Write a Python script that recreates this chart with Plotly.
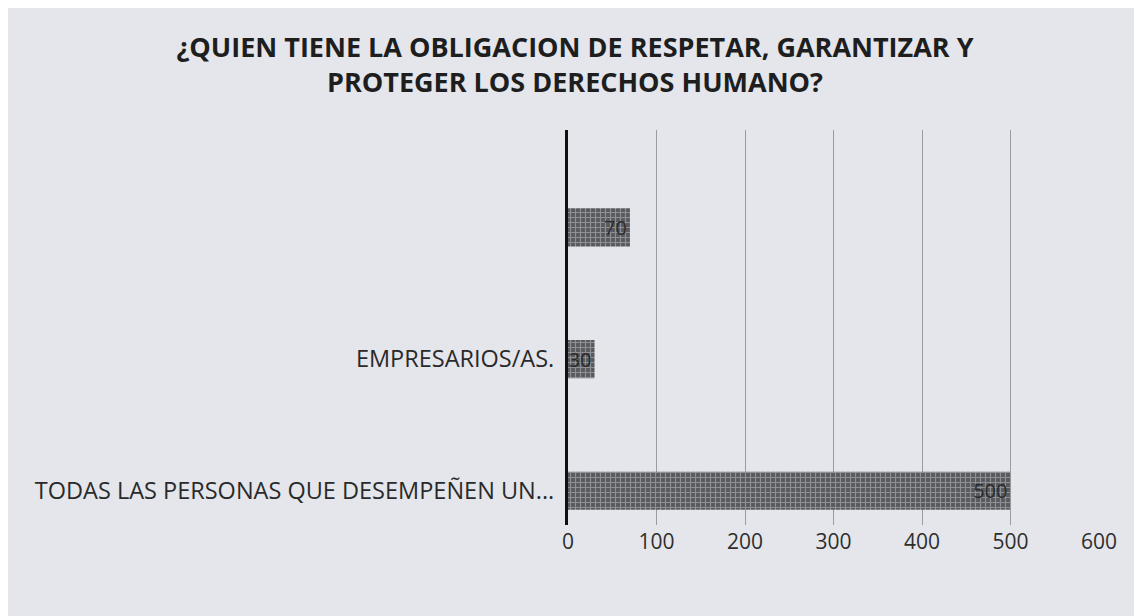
import plotly.graph_objects as go

# chart data (bottom to top, as drawn by the category axis)
categories = ["TODAS LAS PERSONAS QUE DESEMPEÑEN UN...", "EMPRESARIOS/AS.", " "]
values = [500, 30, 70]
x_ticks = [0, 100, 200, 300, 400, 500, 600]

title_text = "¿QUIEN TIENE LA OBLIGACION DE RESPETAR, GARANTIZAR Y<br>PROTEGER LOS DERECHOS HUMANO?"

bar = go.Bar(
    x=values,
    y=categories,
    orientation="h",
    width=0.29,
    marker=dict(
        color="#585a5e",
        line=dict(width=0),
        pattern=dict(shape="+", fgcolor="#c4c6cb", size=5, solidity=0.4),
    ),
    text=[str(v) for v in values],
    textposition="inside",
    insidetextanchor="end",
    textfont=dict(family="Open Sans", size=20, color="#2b2b2b"),
    cliponaxis=False,
)

fig = go.Figure(data=[bar])
# the page adds an 8px body margin, so the figure is 8px smaller
fig.update_layout(
    width=1134,
    height=608,
    margin=dict(l=560, r=43, t=122, b=91),
    paper_bgcolor="#e4e6eb",
    plot_bgcolor="#e4e6eb",
    showlegend=False,
    uniformtext=dict(minsize=20, mode="show"),
    title=dict(
        text=title_text,
        x=0.5,
        xanchor="center",
        y=0.92,
        yanchor="top",
        font=dict(family="Open Sans", size=27, color="#1e1e1e", weight="bold"),
    ),
    xaxis=dict(
        range=[0, 600],
        tickvals=x_ticks,
        showgrid=True,
        gridcolor="#9a9ca0",
        gridwidth=1,
        zeroline=False,
        showline=False,
        ticks="",
        ticklabelstandoff=2,
        tickfont=dict(family="Open Sans", size=21, color="#2e2e2e"),
    ),
    yaxis=dict(
        type="category",
        range=[-0.26, 2.74],
        showgrid=False,
        showline=True,
        linecolor="#111111",
        linewidth=3,
        ticks="",
        ticklabelstandoff=6,
        tickfont=dict(family="Open Sans", size=23.5, color="#2a2a2a"),
    ),
)

fig.write_html("out.html")
